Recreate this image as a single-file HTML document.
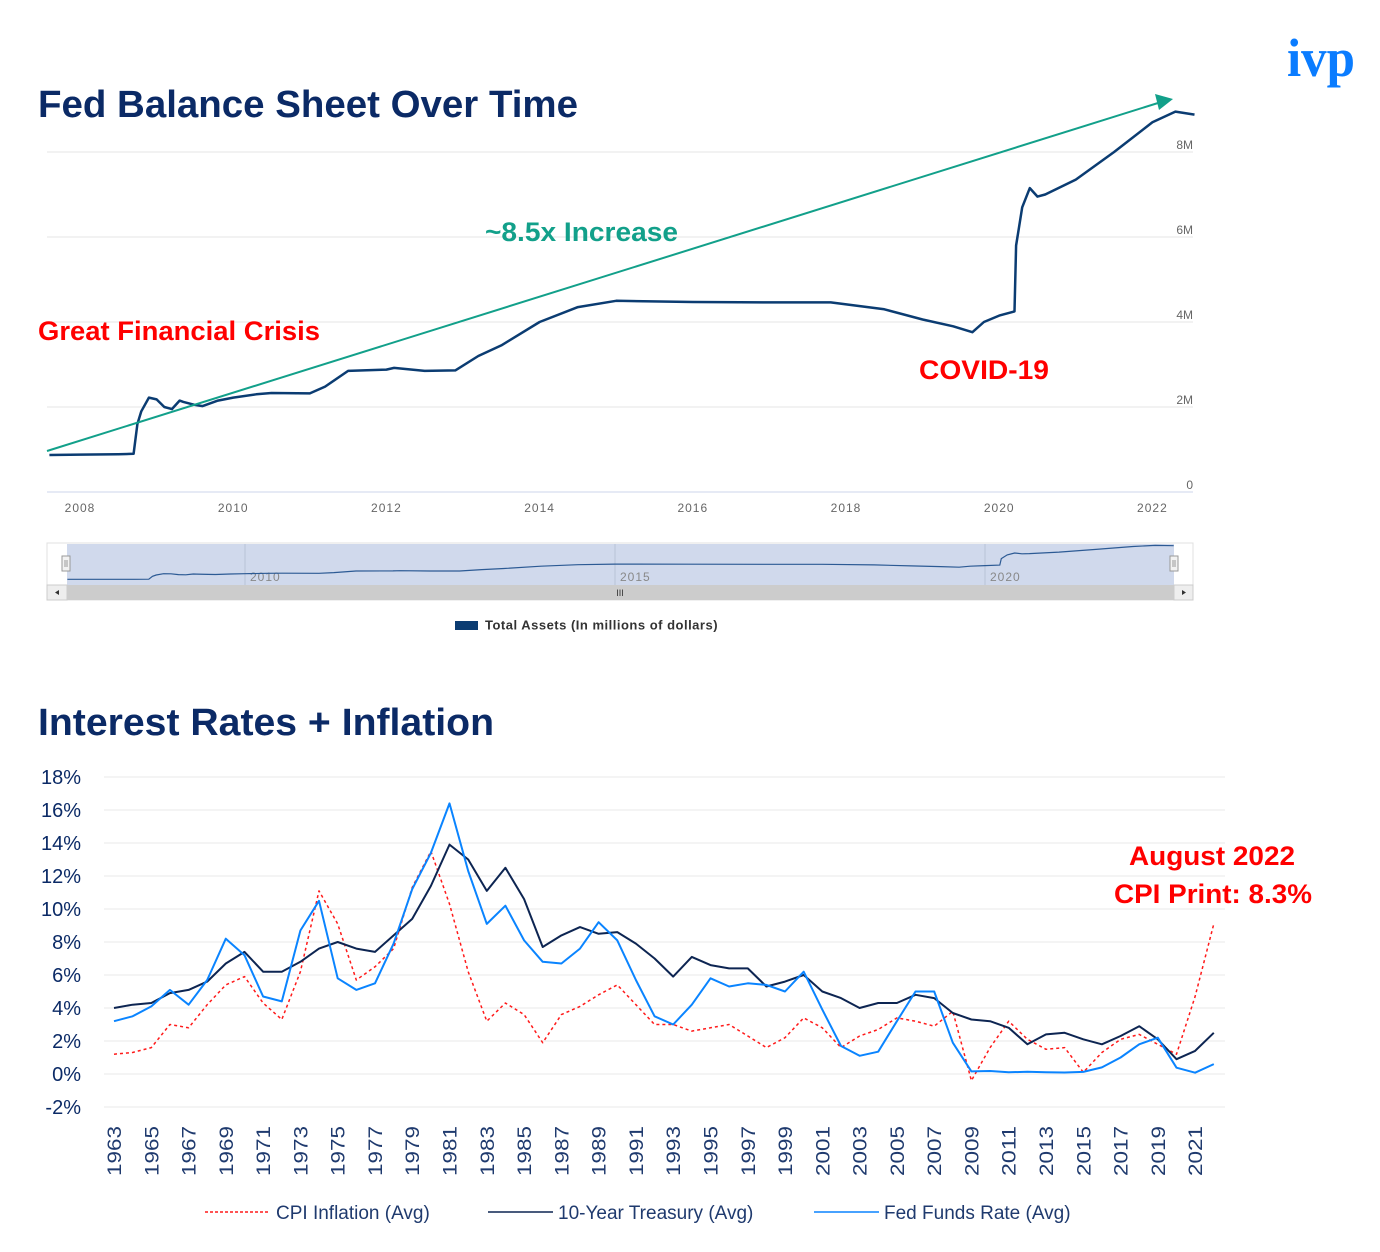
<!DOCTYPE html>
<html><head><meta charset="utf-8"><style>
html,body{margin:0;padding:0;background:#fff;}
svg{display:block;font-family:"Liberation Sans",sans-serif;}
</style></head><body>
<svg id="root" width="1380" height="1252" viewBox="0 0 1380 1252">
<text x="1287" y="76" font-family="Liberation Serif,serif" font-weight="bold" font-size="54" fill="#0a7cff" textLength="68" lengthAdjust="spacingAndGlyphs">ivp</text>
<text x="38" y="117" font-weight="bold" font-size="38" fill="#0b2a66" textLength="540" lengthAdjust="spacingAndGlyphs">Fed Balance Sheet Over Time</text>
<text x="38" y="735" font-weight="bold" font-size="38" fill="#0b2a66" textLength="456" lengthAdjust="spacingAndGlyphs">Interest Rates + Inflation</text>
<g id="topChart"></g>
<g id="navChart"></g>
<g id="bottomChart"></g>
<text x="485" y="241" font-weight="bold" font-size="27" fill="#12a08a" textLength="193" lengthAdjust="spacingAndGlyphs">~8.5x Increase</text>
<text x="38" y="340" font-weight="bold" font-size="27" fill="#f00" textLength="282" lengthAdjust="spacingAndGlyphs">Great Financial Crisis</text>
<text x="919" y="379" font-weight="bold" font-size="27" fill="#f00" textLength="130" lengthAdjust="spacingAndGlyphs">COVID-19</text>
<text x="1212" y="865" text-anchor="middle" font-weight="bold" font-size="27" fill="#f00" textLength="166" lengthAdjust="spacingAndGlyphs">August 2022</text>
<text x="1213" y="903" text-anchor="middle" font-weight="bold" font-size="27" fill="#f00" textLength="198" lengthAdjust="spacingAndGlyphs">CPI Print: 8.3%</text>
</svg>
<script>
// ---- Fed balance sheet data ----
const bsDates=[2007.6,2008.0,2008.5,2008.7,2008.75,2008.8,2008.9,2009.0,2009.1,2009.2,2009.3,2009.35,2009.5,2009.6,2009.8,2010.0,2010.3,2010.5,2011.0,2011.2,2011.5,2012.0,2012.1,2012.5,2012.9,2013.2,2013.5,2014.0,2014.5,2015.0,2016.0,2017.0,2017.8,2018.5,2019.0,2019.4,2019.65,2019.8,2020.0,2020.2,2020.22,2020.3,2020.4,2020.5,2020.6,2021.0,2021.5,2022.0,2022.3,2022.55];
const bsValues=[0.87,0.88,0.89,0.90,1.6,1.9,2.22,2.18,2.0,1.95,2.15,2.12,2.05,2.02,2.15,2.22,2.30,2.33,2.32,2.48,2.85,2.88,2.92,2.85,2.86,3.2,3.45,4.0,4.35,4.5,4.47,4.46,4.46,4.3,4.06,3.9,3.76,4.0,4.15,4.25,5.8,6.7,7.15,6.95,7.0,7.35,8.0,8.7,8.95,8.88];
const bsYTicks=[0,2,4,6,8];
const bsXTicks=[2008,2010,2012,2014,2016,2018,2020,2022];
const navTicks=[2010,2015,2020];
// ---- Rates data ----
const years=[];for(let y=1963;y<=2022;y++)years.push(y);
const cpi=[1.2,1.3,1.6,3.0,2.8,4.2,5.4,5.9,4.3,3.3,6.2,11.1,9.1,5.7,6.5,7.6,11.3,13.5,10.3,6.2,3.2,4.3,3.6,1.9,3.6,4.1,4.8,5.4,4.2,3.0,3.0,2.6,2.8,3.0,2.3,1.6,2.2,3.4,2.8,1.6,2.3,2.7,3.4,3.2,2.9,3.8,-0.4,1.6,3.2,2.1,1.5,1.6,0.1,1.3,2.1,2.4,1.8,1.2,4.7,9.1];
const tsy=[4.0,4.2,4.3,4.9,5.1,5.6,6.7,7.4,6.2,6.2,6.8,7.6,8.0,7.6,7.4,8.4,9.4,11.4,13.9,13.0,11.1,12.5,10.6,7.7,8.4,8.9,8.5,8.6,7.9,7.0,5.9,7.1,6.6,6.4,6.4,5.3,5.6,6.0,5.0,4.6,4.0,4.3,4.3,4.8,4.6,3.7,3.3,3.2,2.8,1.8,2.4,2.5,2.1,1.8,2.3,2.9,2.1,0.9,1.4,2.5];
const ffr=[3.2,3.5,4.1,5.1,4.2,5.7,8.2,7.2,4.7,4.4,8.7,10.5,5.8,5.1,5.5,7.9,11.2,13.4,16.4,12.3,9.1,10.2,8.1,6.8,6.7,7.6,9.2,8.1,5.7,3.5,3.0,4.2,5.8,5.3,5.5,5.4,5.0,6.2,3.9,1.7,1.1,1.35,3.2,5.0,5.0,1.9,0.16,0.18,0.1,0.14,0.11,0.09,0.13,0.4,1.0,1.8,2.2,0.38,0.08,0.6];
const rateTicks=[-2,0,2,4,6,8,10,12,14,16,18];

const NS='http://www.w3.org/2000/svg';
function mk(parent,tag,attrs,txt){const e=document.createElementNS(NS,tag);for(const k in attrs)e.setAttribute(k,attrs[k]);if(txt!==undefined)e.textContent=txt;parent.appendChild(e);return e;}

// ---- top chart ----
const topG=document.getElementById('topChart');
const tx=d=>80+(d-2008)*76.6;
const ty=v=>492-v*42.5;
bsYTicks.forEach(v=>{
  const l=mk(topG,'line',{x1:47,x2:1193,y1:ty(v),y2:ty(v),stroke:v===0?'#ccd6eb':'#e6e6e6','stroke-width':1});
  
  
  const t=mk(topG,'text',{x:1193,y:ty(v)-3,'text-anchor':'end','font-size':12,fill:'#666'},v===0?'0':v+'M');
  
  
});
bsXTicks.forEach(d=>{
  const t=mk(topG,'text',{x:tx(d),y:512,'text-anchor':'middle','font-size':12,fill:'#666','letter-spacing':'1'},String(d));
  
  
});
let p='';bsDates.forEach((d,i)=>{p+=(i?'L':'M')+tx(d).toFixed(1)+','+ty(bsValues[i]).toFixed(1);});
const bl=mk(topG,'path',{d:p,fill:'none',stroke:'#0b3c72','stroke-width':2.5,'stroke-linejoin':'round'});


const ar=mk(topG,'line',{x1:47,y1:451,x2:1158,y2:103,stroke:'#12a08a','stroke-width':2});


const ah=mk(topG,'polygon',{points:'1173,99 1155,94 1159,110',fill:'#12a08a'});


const lr=mk(topG,'rect',{x:455,y:621,width:23,height:9,fill:'#0b3c72'});


const lt=mk(topG,'text',{x:485,y:629.5,'font-size':13,'font-weight':'bold',fill:'#333','letter-spacing':'0.5'},'Total Assets (In millions of dollars)');



// ---- navigator ----
const navG=document.getElementById('navChart');
const nx=d=>245+(d-2010)*74;
const ny=v=>583-v*4.2;
const nb=mk(navG,'rect',{x:47,y:543,width:1146,height:57,fill:'#fff',stroke:'#e0e0e0'});


const sh=mk(navG,'rect',{x:67,y:544,width:1107,height:41,fill:'#d0d9ec'});


navTicks.forEach(d=>{
  const l=mk(navG,'line',{x1:nx(d),x2:nx(d),y1:544,y2:585,stroke:'#b8c2d6'});
  
  
  const t=mk(navG,'text',{x:nx(d)+5,y:581,'font-size':12,fill:'#888','letter-spacing':'1'},String(d));
  
  
});
let np='';bsDates.forEach((d,i)=>{np+=(i?'L':'M')+nx(d).toFixed(1)+','+ny(bsValues[i]).toFixed(1);});
const nl=mk(navG,'path',{d:np,fill:'none',stroke:'#2c5a94','stroke-width':1.2});


const sb=mk(navG,'rect',{x:47,y:585,width:1146,height:15,fill:'#cccccc'});


const b1=mk(navG,'rect',{x:47,y:585,width:20,height:15,fill:'#eee',stroke:'#ccc'});


const b2=mk(navG,'rect',{x:1174,y:585,width:19,height:15,fill:'#eee',stroke:'#ccc'});


mk(navG,'polygon',{points:'55,592.5 59,590 59,595',fill:'#333'});
mk(navG,'polygon',{points:'1186,592.5 1182,590 1182,595',fill:'#333'});
const gr=mk(navG,'text',{x:620,y:596,'text-anchor':'middle','font-size':9,fill:'#333'},'III');


[66,1174].forEach((x,i)=>{
  const h=mk(navG,'rect',{x:x-4,y:556,width:8,height:15,fill:'#f2f2f2',stroke:'#999'});
  
  
  mk(navG,'line',{x1:x-1,x2:x-1,y1:560,y2:567,stroke:'#999'});
  mk(navG,'line',{x1:x+1,x2:x+1,y1:560,y2:567,stroke:'#999'});
});

// ---- bottom chart ----
const botG=document.getElementById('bottomChart');
const rx=y=>114+(y-1963)*18.64;
const ry=v=>1074-v*16.5;
rateTicks.forEach(v=>{
  const l=mk(botG,'line',{x1:104,x2:1225,y1:ry(v),y2:ry(v),stroke:'#eeeeee','stroke-width':1.2});
  
  
  const t=mk(botG,'text',{x:81,y:ry(v)+7,'text-anchor':'end','font-size':20,fill:'#0b2a66'},v+'%');
  
  
});
years.forEach(y=>{
  if((y-1963)%2)return;
  const t=mk(botG,'text',{transform:'translate('+(rx(y)+7)+',1176) rotate(-90)','font-size':19,fill:'#1f3a6e',textLength:50,lengthAdjust:'spacingAndGlyphs'},String(y));
  
  
});
function drawLine(arr,attrs,name){
  let d='';arr.forEach((v,i)=>{d+=(i?'L':'M')+rx(years[i]).toFixed(1)+','+ry(v).toFixed(1);});
  attrs.d=d;attrs.fill='none';attrs['stroke-linejoin']='round';
  const e=mk(botG,'path',attrs);
  
  
}
drawLine(cpi,{stroke:'#ff1a1a','stroke-width':1.5,'stroke-dasharray':'3,3'},'cpi-line');
drawLine(tsy,{stroke:'#0d2552','stroke-width':2},'treasury-line');
drawLine(ffr,{stroke:'#0a84ff','stroke-width':2},'fed-funds-line');
const leg=[[205,'#ff1a1a','3,2',276,'CPI Inflation (Avg)','legend-cpi'],[488,'#0d2552','',558,'10-Year Treasury (Avg)','legend-treasury'],[814,'#0a84ff','',884,'Fed Funds Rate (Avg)','legend-fed-funds']];
leg.forEach(L=>{
  const g=mk(botG,'g',{});
  
  
  mk(g,'line',{x1:L[0],x2:L[0]+65,y1:1212,y2:1212,stroke:L[1],'stroke-width':1.5,'stroke-dasharray':L[2]||'none'});
  mk(g,'text',{x:L[3],y:1219,'font-size':19,fill:'#1f3a6e'},L[4]);
});
</script>
</body></html>
